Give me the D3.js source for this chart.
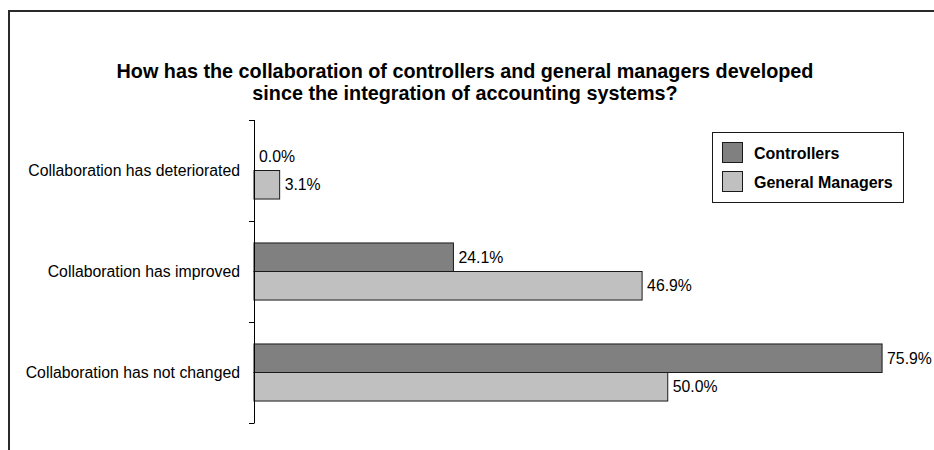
<!DOCTYPE html>
<html>
<head>
<meta charset="utf-8">
<script src="https://cdn.jsdelivr.net/npm/d3@7"></script>
<style>
  html, body { margin: 0; padding: 0; background: #fff; }
  svg { display: block; font-family: "Liberation Sans", Arial, sans-serif; }
</style>
</head>
<body>
<svg id="chart" width="934" height="450"></svg>
<script>
// Survey answers, one row per category (top to bottom)
const categories = [
  "Collaboration has deteriorated",
  "Collaboration has improved",
  "Collaboration has not changed"
];
const seriesNames = ["Controllers", "General Managers"];
const controllers = [0.0, 24.1, 75.9];
const generalManagers = [3.1, 46.9, 50.0];
const seriesColors = ["#808080", "#c0c0c0"];
const titleLines = [
  "How has the collaboration of controllers and general managers developed",
  "since the integration of accounting systems?"
];

const svg = d3.select("#chart");
const W = 934, H = 450;

// chart frame (left and top edges)
svg.append("path")
  .attr("d", `M9,${H} V11 H${W}`)
  .attr("fill", "none")
  .attr("stroke", "#2a2a2a")
  .attr("stroke-width", 2);

// title
svg.append("text")
  .attr("text-anchor", "middle")
  .attr("font-weight", "bold")
  .attr("font-size", 19.8)
  .attr("fill", "#000")
  .selectAll("tspan")
  .data(titleLines)
  .join("tspan")
  .attr("x", 465)
  .attr("y", (d, i) => 78 + i * 22)
  .text(d => d);

// scales
const plot = { left: 254, right: 916, top: 120, bottom: 423 };
const x = d3.scaleLinear().domain([0, 80]).range([plot.left, plot.right]);
const y = d3.scaleBand().domain(categories).range([plot.top, plot.bottom]);
const ySub = d3.scaleBand().domain(seriesNames).range([0, y.bandwidth()])
  .paddingInner(0).paddingOuter(0.77);

const rows = categories.map((c, i) => ({
  category: c,
  values: [
    { series: seriesNames[0], value: controllers[i], color: seriesColors[0] },
    { series: seriesNames[1], value: generalManagers[i], color: seriesColors[1] }
  ]
}));

// bars
const groups = svg.append("g").selectAll("g")
  .data(rows)
  .join("g")
  .attr("transform", d => `translate(0,${y(d.category)})`);

groups.selectAll("rect")
  .data(d => d.values)
  .join("rect")
  .attr("x", x(0))
  .attr("y", d => ySub(d.series))
  .attr("width", d => x(d.value) - x(0))
  .attr("height", ySub.bandwidth())
  .attr("fill", d => d.color)
  .attr("stroke", d => d.value > 0 ? "#1a1a1a" : "none")
  .attr("stroke-width", 1);

// value labels
const fmt = d3.format(".1f");
groups.selectAll("text")
  .data(d => d.values)
  .join("text")
  .attr("x", d => x(d.value) + 5)
  .attr("y", d => ySub(d.series) + ySub.bandwidth() / 2)
  .attr("dy", "0.35em")
  .attr("font-size", 15.8)
  .attr("fill", "#000")
  .text(d => fmt(d.value) + "%");

// category axis
const axis = svg.append("g")
  .attr("transform", `translate(${plot.left},0)`)
  .call(d3.axisLeft(y).tickSize(0).tickPadding(14));
axis.select(".domain").remove();
axis.selectAll("text")
  .attr("font-size", 15.8)
  .attr("font-family", "Liberation Sans, Arial, sans-serif")
  .attr("fill", "#000");

// axis line with tick marks between categories
const boundaries = categories.map(c => y(c)).concat([y.range()[1]]);
svg.append("line")
  .attr("x1", plot.left + 0.5).attr("x2", plot.left + 0.5)
  .attr("y1", plot.top).attr("y2", plot.bottom)
  .attr("stroke", "#000");
svg.append("g").selectAll("line")
  .data(boundaries)
  .join("line")
  .attr("x1", plot.left - 5).attr("x2", plot.left + 0.5)
  .attr("y1", d => Math.round(d) + 0.5).attr("y2", d => Math.round(d) + 0.5)
  .attr("stroke", "#000");

// legend
const legend = svg.append("g").attr("transform", "translate(712,132)");
legend.append("rect")
  .attr("x", 0.5).attr("y", 0.5)
  .attr("width", 191).attr("height", 70)
  .attr("fill", "#fff")
  .attr("stroke", "#1a1a1a");
const items = legend.selectAll("g.item")
  .data(seriesNames)
  .join("g")
  .attr("class", "item")
  .attr("transform", (d, i) => `translate(10,${10 + i * 29})`);
items.append("rect")
  .attr("x", 0.5).attr("y", 0.5)
  .attr("width", 20).attr("height", 20)
  .attr("fill", (d, i) => seriesColors[i])
  .attr("stroke", "#1a1a1a");
items.append("text")
  .attr("x", 32).attr("y", 11)
  .attr("dy", "0.35em")
  .attr("font-size", 16)
  .attr("font-weight", "bold")
  .attr("fill", "#000")
  .text(d => d);
</script>
</body>
</html>
